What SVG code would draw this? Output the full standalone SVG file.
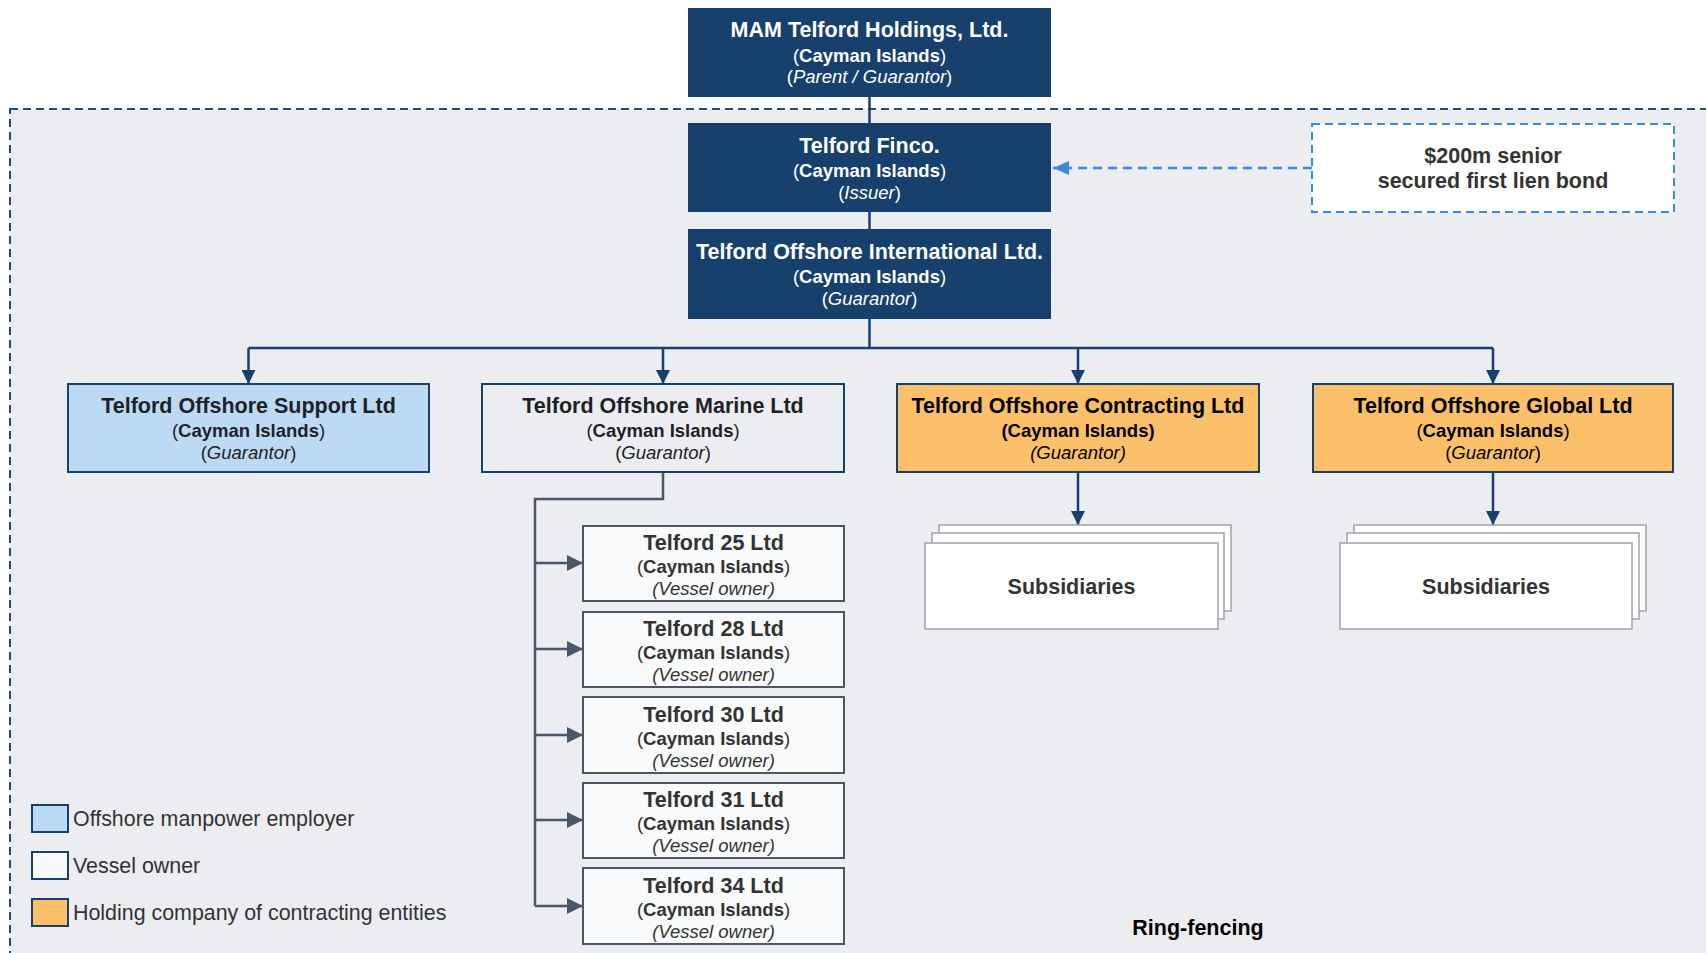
<svg xmlns="http://www.w3.org/2000/svg" width="1706" height="953" viewBox="0 0 1706 953">
<defs>
<style>
text{font-family:"Liberation Sans",Arial,sans-serif;text-anchor:middle}
.t{font-size:21.5px;font-weight:bold}
.s{font-size:18.5px}
.b{font-weight:bold}
.i{font-style:italic}
.w{fill:#ffffff}
.k{fill:#1e2228}
.g{fill:#333333}
.dark{fill:#17406d}
.nv{stroke:#17406d;stroke-width:2}
.ves{fill:#f9fafb;stroke:#4b5563;stroke-width:2}
.sub{fill:#ffffff;stroke:#9ea3a8;stroke-width:1.5}
.con{fill:none;stroke:#17406d;stroke-width:2.5}
.vcon{fill:none;stroke:#4a5766;stroke-width:2.5}
.leg{font-size:21.4px;text-anchor:start;fill:#333333}
</style>
<marker id="an" markerUnits="userSpaceOnUse" markerWidth="14" markerHeight="14" viewBox="0 0 14 14" refX="14" refY="7" orient="auto"><path d="M0,0 L14,7 L0,14 z" fill="#17406d"/></marker>
<marker id="ag" markerUnits="userSpaceOnUse" markerWidth="16" markerHeight="16" viewBox="0 0 16 16" refX="16" refY="8" orient="auto"><path d="M0,0 L16,8 L0,16 z" fill="#4a5766"/></marker>
<marker id="ab" markerUnits="userSpaceOnUse" markerWidth="16" markerHeight="14" viewBox="0 0 16 14" refX="16" refY="7" orient="auto"><path d="M0,0 L16,7 L0,14 z" fill="#3b8bdc"/></marker>
</defs>
<rect x="0" y="0" width="1706" height="953" fill="#ffffff"/>
<g id="ring-fencing">
<rect x="10" y="109" width="1710" height="860" fill="#ecedf0" stroke="#1f4e79" stroke-width="2" stroke-dasharray="8,5"/>
<text x="1198" y="935" class="t" fill="#000000">Ring-fencing</text>
</g>
<g id="connectors">
<line x1="869.5" y1="97" x2="869.5" y2="123" class="con"/>
<line x1="869.5" y1="212" x2="869.5" y2="229" class="con"/>
<path d="M869.5,319 V348" class="con"/>
<path d="M248.5,348 H1493" class="con"/>
<path d="M248.5,348 V384" class="con" marker-end="url(#an)"/>
<path d="M663,348 V384" class="con" marker-end="url(#an)"/>
<path d="M1078,348 V384" class="con" marker-end="url(#an)"/>
<path d="M1493,348 V384" class="con" marker-end="url(#an)"/>
<path d="M1078,472 V525" class="con" marker-end="url(#an)"/>
<path d="M1493,472 V525" class="con" marker-end="url(#an)"/>
<path d="M663,472 V499 H535 V906" class="vcon"/>
<path d="M535,563 H583" class="vcon" marker-end="url(#ag)"/>
<path d="M535,649 H583" class="vcon" marker-end="url(#ag)"/>
<path d="M535,735 H583" class="vcon" marker-end="url(#ag)"/>
<path d="M535,820 H583" class="vcon" marker-end="url(#ag)"/>
<path d="M535,906 H583" class="vcon" marker-end="url(#ag)"/>
<path d="M1312,168 H1053" fill="none" stroke="#3b8bdc" stroke-width="2.5" stroke-dasharray="9,6" marker-end="url(#ab)"/>
</g>
<g id="mam">
<rect x="688" y="8" width="363" height="89" class="dark"/>
<text x="869.5" y="37" class="t w">MAM Telford Holdings, Ltd.</text>
<text x="869.5" y="62" class="s w">(<tspan class="b">Cayman Islands</tspan>)</text>
<text x="869.5" y="83" class="s w">(<tspan class="i">Parent / Guarantor</tspan>)</text>
</g>
<g id="finco">
<rect x="688" y="123" width="363" height="89" class="dark"/>
<text x="869.5" y="153" class="t w">Telford Finco.</text>
<text x="869.5" y="177" class="s w">(<tspan class="b">Cayman Islands</tspan>)</text>
<text x="869.5" y="199" class="s w">(<tspan class="i">Issuer</tspan>)</text>
</g>
<g id="international">
<rect x="688" y="229" width="363" height="90" class="dark"/>
<text x="869.5" y="259" class="t w">Telford Offshore International Ltd.</text>
<text x="869.5" y="283" class="s w">(<tspan class="b">Cayman Islands</tspan>)</text>
<text x="869.5" y="305" class="s w">(<tspan class="i">Guarantor</tspan>)</text>
</g>
<g id="bond">
<rect x="1312" y="124" width="362" height="88" fill="#ffffff" stroke="#3b8bdc" stroke-width="2" stroke-dasharray="8,5"/>
<text x="1493" y="163" class="t g">$200m senior</text>
<text x="1493" y="188" class="t g">secured first lien bond</text>
</g>
<g id="support">
<rect x="68" y="384" width="361" height="88" fill="#bddaf5" class="nv"/>
<text x="248.5" y="413" class="t k">Telford Offshore Support Ltd</text>
<text x="248.5" y="437" class="s k">(<tspan class="b">Cayman Islands</tspan>)</text>
<text x="248.5" y="459" class="s k">(<tspan class="i">Guarantor</tspan>)</text>
</g>
<g id="marine">
<rect x="482" y="384" width="362" height="88" fill="#ecedf0" class="nv"/>
<text x="663" y="413" class="t k">Telford Offshore Marine Ltd</text>
<text x="663" y="437" class="s k">(<tspan class="b">Cayman Islands</tspan>)</text>
<text x="663" y="459" class="s k">(<tspan class="i">Guarantor</tspan>)</text>
</g>
<g id="contracting">
<rect x="897" y="384" width="362" height="88" fill="#fdc06a" class="nv"/>
<text x="1078" y="413" class="t" fill="#000000">Telford Offshore Contracting Ltd</text>
<text x="1078" y="437" class="s b" fill="#000000">(Cayman Islands)</text>
<text x="1078" y="459" class="s i" fill="#000000">(Guarantor)</text>
</g>
<g id="global">
<rect x="1313" y="384" width="360" height="88" fill="#fdc06a" class="nv"/>
<text x="1493" y="413" class="t" fill="#000000">Telford Offshore Global Ltd</text>
<text x="1493" y="437" class="s" fill="#000000">(<tspan class="b">Cayman Islands</tspan>)</text>
<text x="1493" y="459" class="s" fill="#000000">(<tspan class="i">Guarantor</tspan>)</text>
</g>
<g id="contracting-subsidiaries">
<rect x="939" y="525" width="292" height="86" class="sub"/>
<rect x="932" y="533" width="292" height="86" class="sub"/>
<rect x="925" y="543" width="293" height="86" class="sub"/>
<text x="1071.5" y="594" class="t g">Subsidiaries</text>
</g>
<g id="global-subsidiaries">
<rect x="1354" y="525" width="292" height="86" class="sub"/>
<rect x="1347" y="533" width="292" height="86" class="sub"/>
<rect x="1340" y="543" width="292" height="86" class="sub"/>
<text x="1486" y="594" class="t g">Subsidiaries</text>
</g>
<g id="telford25">
<rect x="583" y="526" width="261" height="75" class="ves"/>
<text x="713.5" y="550" class="t g">Telford 25 Ltd</text>
<text x="713.5" y="573" class="s g">(<tspan class="b">Cayman Islands</tspan>)</text>
<text x="713.5" y="595" class="s i g">(Vessel owner)</text>
</g>
<g id="telford28">
<rect x="583" y="612" width="261" height="75" class="ves"/>
<text x="713.5" y="636" class="t g">Telford 28 Ltd</text>
<text x="713.5" y="659" class="s g">(<tspan class="b">Cayman Islands</tspan>)</text>
<text x="713.5" y="681" class="s i g">(Vessel owner)</text>
</g>
<g id="telford30">
<rect x="583" y="697" width="261" height="76" class="ves"/>
<text x="713.5" y="722" class="t g">Telford 30 Ltd</text>
<text x="713.5" y="745" class="s g">(<tspan class="b">Cayman Islands</tspan>)</text>
<text x="713.5" y="767" class="s i g">(Vessel owner)</text>
</g>
<g id="telford31">
<rect x="583" y="783" width="261" height="75" class="ves"/>
<text x="713.5" y="807" class="t g">Telford 31 Ltd</text>
<text x="713.5" y="830" class="s g">(<tspan class="b">Cayman Islands</tspan>)</text>
<text x="713.5" y="852" class="s i g">(Vessel owner)</text>
</g>
<g id="telford34">
<rect x="583" y="868" width="261" height="76" class="ves"/>
<text x="713.5" y="893" class="t g">Telford 34 Ltd</text>
<text x="713.5" y="916" class="s g">(<tspan class="b">Cayman Islands</tspan>)</text>
<text x="713.5" y="938" class="s i g">(Vessel owner)</text>
</g>
<g id="legend">
<rect x="32" y="805" width="36" height="27" fill="#bddaf5" class="nv"/>
<text x="73" y="826" class="leg">Offshore manpower employer</text>
<rect x="32" y="852" width="36" height="27" fill="#f9fafb" class="nv"/>
<text x="73" y="873" class="leg">Vessel owner</text>
<rect x="32" y="899" width="36" height="27" fill="#fdc06a" class="nv"/>
<text x="73" y="920" class="leg">Holding company of contracting entities</text>
</g>
</svg>
